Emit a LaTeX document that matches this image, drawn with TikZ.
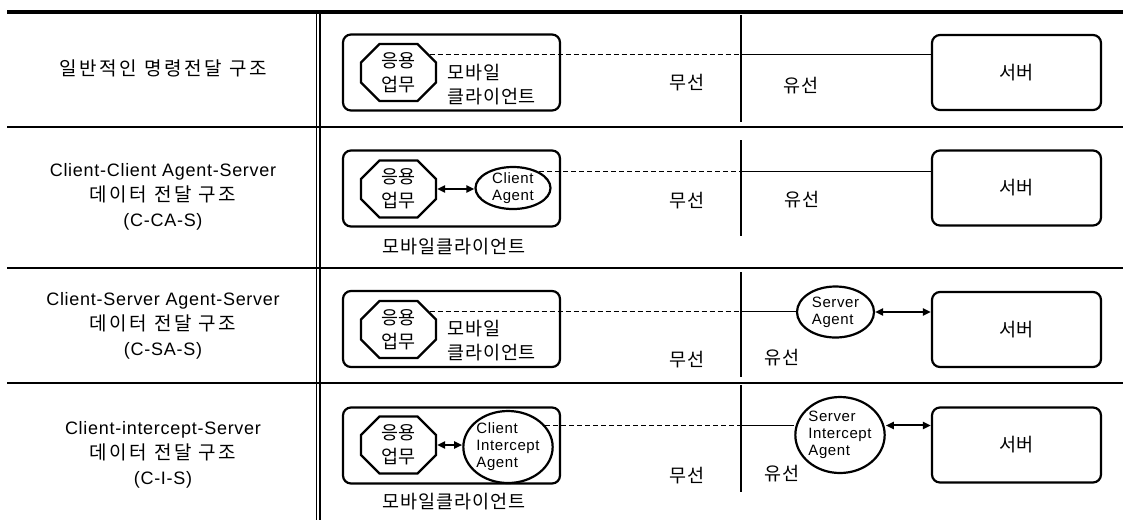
\documentclass[tikz,border=0pt]{standalone}
\usepackage{fontspec}
\setmainfont{Liberation Sans}[LetterSpace=4]
\newfontfamily\kr{Noto Sans CJK KR}[LetterSpace=5]
\newfontfamily\krw{Noto Sans CJK KR}[LetterSpace=14]
\usetikzlibrary{shapes.misc,shapes.geometric,arrows.meta}

\begin{document}
\begin{tikzpicture}[x=1pt,y=-1pt,
    every node/.style = {font = {\fontsize{18.5}{24}\selectfont\kr}, inner sep=0pt, align=center},
    lbl/.style = {font = {\fontsize{18}{25}\selectfont}},
    box/.style = {draw, line width=2.2pt, rounded corners=8pt},
    app/.style = {draw, line width=2.2pt, chamfered rectangle, chamfered rectangle xsep=15pt,
                  minimum width=75pt, minimum height=57pt},
    agent/.style = {draw, line width=2.2pt, ellipse, align=left, font = {\fontsize{15}{17}\selectfont}},
    link/.style = {line width=1.5pt},
    both/.style = {line width=2pt, {Triangle[length=8pt,width=7pt]}-{Triangle[length=8pt,width=7pt]}}]
    \useasboundingbox (0,0) rectangle (1123,520);

    % table rules
    \draw[line width=3.5pt] (7,12) -- (1123,12);
    \foreach \y in {127,268,383}
        \draw[line width=2.5pt] (7,\y) -- (1123,\y);
    \foreach \x in {316.5,320}
        \draw[line width=1.2pt] (\x,12) -- (\x,520);

    % wireless / wired borders
    \foreach \n/\a/\b in {1/15/122,2/140/236,3/272/377,4/385/492}
        \draw[line width=2.5pt] (741,\a) coordinate (w\n) -- (741,\b);

    % left column
    \node[lbl] (t1) at (163,68) {{\krw\fontsize{19}{25}\selectfont 일반적인 명령전달 구조}};
    \node[lbl] (t2) at (163,197) {Client-Client Agent-Server\\{\krw\fontsize{19}{25}\selectfont 데이터 전달 구조}\\(C-CA-S)};
    \node[lbl] (t3) at (163,326) {Client-Server Agent-Server\\{\krw\fontsize{19}{25}\selectfont 데이터 전달 구조}\\(C-SA-S)};
    \node[lbl] (t4) at (163,455) {Client-intercept-Server\\{\krw\fontsize{19}{25}\selectfont 데이터 전달 구조}\\(C-I-S)};

    % mobile clients
    \foreach \n/\y in {1/72.5,2/188.5,3/329,4/445.5}
        \node[box, minimum width=217pt, minimum height=76pt] (cli\n) at (451.5,\y) {};
    \node[app] (app1) at (398.5,72.5) {응용\\업무};
    \node[app] (app2) at (398.5,189) {응용\\업무};
    \node[app] (app3) at (398.5,329.5) {응용\\업무};
    \node[app] (app4) at (398.5,445) {응용\\업무};
    \node[anchor=west, align=left] (mc1) at (447,85) {모바일\\클라이언트};
    \node[anchor=west, align=left] (mc3) at (447,341) {모바일\\클라이언트};
    \node (mc2) at (454,247) {모바일클라이언트};
    \node (mc4) at (454,502) {모바일클라이언트};

    \node[agent, minimum width=75pt, minimum height=42pt, inner ysep=-3pt] (ca) at (513,188) {Client\\Agent};
    \node[agent, minimum width=86pt, minimum height=72pt] (cia) at (508,447) {Client\\Intercept\\Agent};
    \node[agent, minimum width=77pt, minimum height=51pt] (sa) at (835.5,312) {Server\\Agent};
    \node[agent, minimum width=85pt, minimum height=76pt] (sia) at (840,435) {Server\\Intercept\\Agent};

    % servers
    \foreach \n/\y in {1/72.5,2/188,3/329.5,4/445}
        \node[box, minimum width=169pt, minimum height=75pt] (srv\n) at (1016.5,\y) {서버};

    % wireless / wired labels
    \foreach \n/\y/\x/\z in {1/83/801/86,2/201/802/200,3/360/782/358,4/476/782/474}{
        \node (ws\n) at (687,\y) {무선};
        \node (wd\n) at (\x,\z) {유선};
    }

    % connections
    \draw[link,dashed,dash pattern=on 5pt off 3pt] (app1.30) -- (app1.30 -| w1) coordinate (m1);
    \draw[link] (m1) -- (m1 -| srv1.west);

    \draw[both] (app2.east) -- (app2.east -| ca.west);
    \draw[link,dashed,dash pattern=on 5pt off 3pt] (ca.32) -- (ca.32 -| w2) coordinate (m2);
    \draw[link] (m2) -- (m2 -| srv2.west);

    \draw[link,dashed,dash pattern=on 5pt off 3pt] (app3.30) -- (app3.30 -| w3) coordinate (m3);
    \draw[link] (m3) -- (m3 -| sa.west);
    \draw[both] (sa.east) -- (sa.east -| srv3.west);

    \draw[both] (app4.east) -- (app4.east -| cia.west);
    \draw[link,dashed,dash pattern=on 5pt off 3pt] (cia.30) -- (cia.30 -| w4) coordinate (m4);
    \draw[link] (m4) -- (m4 -| sia.west);
    \draw[both] (m4 -| sia.east) -- (m4 -| srv4.west);
\end{tikzpicture}
\end{document}
